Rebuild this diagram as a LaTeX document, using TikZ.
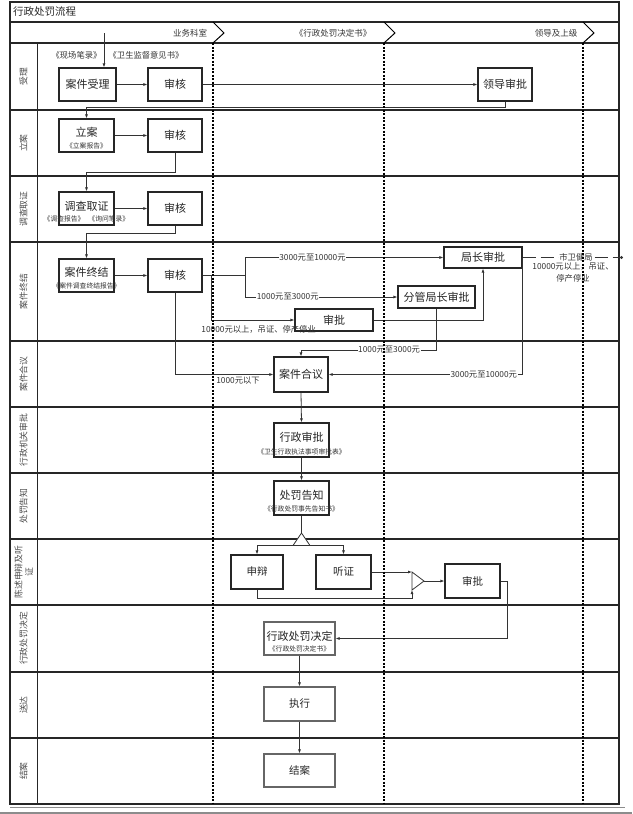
\documentclass[tikz,border=0pt]{standalone}
\usepackage{fontspec}
\setmainfont{Noto Sans CJK SC}
\usetikzlibrary{arrows.meta,calc}
\begin{document}
\begin{tikzpicture}[x=1pt,y=-1pt,
  lane/.style={line width=1.1pt,draw=black!85},
  vline/.style={dashed,dash pattern=on 2pt off 1.5pt,line width=1.1pt,draw=black},
  chev/.style={line width=1pt,draw=black},
  box/.style={draw=black!85,line width=1.1pt,fill=white,inner sep=0pt,text=black!85,font=\fontsize{11}{12}\selectfont},
  sz/.style 2 args={minimum width=#1,minimum height=#2},
  mtxt/.style={inner sep=0pt,text=black!85,font=\fontsize{11}{12}\selectfont},
  stxt/.style={inner sep=0pt,text=black!80,font=\fontsize{6.8}{7}\selectfont},
  arr/.style={-{Latex[length=4pt,width=3pt]},line width=0.8pt,draw=black!80},
  con/.style={line width=0.8pt,draw=black!80},
  lbl/.style={fill=white,inner sep=0.6pt,text=black!80,font=\fontsize{8.3}{9}\selectfont},
  plain/.style={inner sep=0pt,text=black!80,font=\fontsize{8.3}{9}\selectfont},
  hdr/.style={inner sep=0pt,text=black!80,font=\fontsize{8.5}{9}\selectfont},
  lanelbl/.style={rotate=90,inner sep=0pt,align=center,text=black!70,font=\fontsize{8.8}{10.5}\selectfont}]
\useasboundingbox (0,0) rectangle (632,814);

% frame and lanes
\draw[lane] (10,2) rectangle (619,804);
\draw[lane] (10,22) -- (619,22);
\foreach \yy in {43,110,176,242,341,407,473,539,605,672,738}
  \draw[lane] (10,\yy) -- (619,\yy);
\draw[lane] (37.5,43) -- (37.5,804);
\foreach \xx in {213,384,583}
  \draw[chev] (\xx,22) -- (\xx+11,33) -- (\xx,43);

% title and headers
\node[anchor=west,inner sep=0pt,text=black!85,font=\fontsize{10.5}{11}\selectfont] (title) at (13,12) {行政处罚流程};
\node[hdr] (h1) at (190,33) {业务科室};
\node[hdr] (h2) at (333,33) {《行政处罚决定书》};
\node[hdr] (h3) at (556,33) {领导及上级};

% lane labels
\node[lanelbl] (l1) at (23.5,76.5) {受理};
\node[lanelbl] (l2) at (23.5,143) {立案};
\node[lanelbl] (l3) at (23.5,209) {调查取证};
\node[lanelbl] (l4) at (23.5,291.5) {案件终结};
\node[lanelbl] (l5) at (23.5,374) {案件合议};
\node[lanelbl] (l6) at (23.5,440) {行政机关审批};
\node[lanelbl] (l7) at (23.5,506) {处罚告知};
\node[lanelbl] (l8) at (23.5,572) {陈述申辩及听\\证};
\node[lanelbl] (l9) at (23.5,638.5) {行政处罚决定};
\node[lanelbl] (l10) at (23.5,705) {送达};
\node[lanelbl] (l11) at (23.5,771) {结案};

% boxes
\node[plain] (doc1) at (76.5,55) {《现场笔录》};
\node[plain] (doc2) at (146,55) {《卫生监督意见书》};
\node[box,sz={57pt}{33pt}] (slA) at (87.5,84.5) {案件受理};
\node[box,sz={54pt}{33pt}] (shA) at (175,84.5) {审核};
\node[box,sz={54pt}{33pt}] (ld) at (505,84.5) {领导审批};

\node[box,sz={55pt}{33pt}] (la) at (86.5,135.5) {};
\node[mtxt] (lat) at (86.5,132.5) {立案};
\node[stxt] (lal) at (86.5,146) {《立案报告》};
\node[box,sz={54pt}{33pt}] (shB) at (175,135.5) {审核};

\node[box,sz={55pt}{33pt}] (dc) at (86.5,208.5) {};
\node[mtxt] (dct) at (86.5,206.5) {调查取证};
\node[stxt] (dcl) at (86.5,219) {《调查报告》\hspace{4pt}《询问笔录》};
\node[box,sz={54pt}{33pt}] (shC) at (175,208.5) {审核};

\node[box,sz={55pt}{33pt}] (zj) at (86.5,275.5) {};
\node[mtxt] (zjt) at (86.5,272.5) {案件终结};
\node[stxt] (zjl) at (86.5,285.5) {《案件调查终结报告》};
\node[box,sz={54pt}{33pt}] (shD) at (175,275.5) {审核};

\node[box,sz={78pt}{21pt}] (jz) at (483,257.5) {局长审批};
\node[box,sz={77pt}{22pt}] (fg) at (436.5,297) {分管局长审批};
\node[box,sz={78pt}{22pt}] (sp) at (334,320) {审批};

\node[box,sz={54pt}{35pt}] (hy) at (301,374.5) {案件合议};

\node[box,sz={55pt}{34pt}] (xz) at (301.5,440) {};
\node[mtxt] (xzt) at (301.5,437.5) {行政审批};
\node[stxt] (xzl) at (301.5,451.5) {《卫生行政执法事项审批表》};

\node[box,sz={55pt}{34pt}] (cf) at (301.5,498) {};
\node[mtxt] (cft) at (301.5,495.5) {处罚告知};
\node[stxt] (cfl) at (301.5,508.5) {《行政处罚事先告知书》};

\node[box,sz={52pt}{34pt},font=\fontsize{10.5}{11}\selectfont] (sb) at (257,572) {申辩};
\node[box,sz={55pt}{34pt},font=\fontsize{10.5}{11}\selectfont] (tz) at (343.5,572) {听证};
\node[box,sz={55pt}{34pt},font=\fontsize{10.5}{11}\selectfont] (sp2) at (472.5,581) {审批};

\node[box,sz={71pt}{33pt},draw=black!60] (jd) at (299.5,638.5) {};
\node[mtxt] (jdt) at (299.5,636) {行政处罚决定};
\node[stxt] (jdl) at (299.5,648.5) {《行政处罚决定书》};

\node[box,sz={71pt}{34pt},draw=black!60,font=\fontsize{10.5}{11}\selectfont] (zx) at (299.5,704) {执行};
\node[box,sz={71pt}{33pt},draw=black!60,font=\fontsize{10.5}{11}\selectfont] (ja) at (299.5,770.5) {结案};

% connectors lanes 1-4
\coordinate (entry) at (104,33);
\draw[arr] (entry) -- (entry |- slA.north);
\draw[arr] (slA.east) -- (shA.west);
\draw[arr] (shA.east) -- (ld.west);
\draw[arr] (ld.south) -- ++(0,5.5) -| (la.north);
\draw[arr] (la.east) -- (shB.west);
\draw[arr] (shB.south) -- ++(0,20) -| (dc.north);
\draw[arr] (dc.east) -- (shC.west);
\draw[arr] (shC.south) -- ++(0,8) -| (zj.north);
\draw[arr] (zj.east) -- (shD.west);

% branching from shD
\coordinate (br) at (245,275.5);
\coordinate (b2) at (211,275.5);
\draw[con] (shD.east) -- (br);
\draw[arr] (br) |- node[lbl,pos=0.67] (t1) {3000元至10000元} (jz.west);
\draw[arr] (br) |- node[lbl,pos=0.64] (t2) {1000元至3000元} (fg.west);
\draw[arr] (b2) |- (sp.west);
\node[plain,anchor=east] (t3) at (316,329.5) {10000元以上，吊证、停产停业};
\draw[arr] (sp.east) -| (jz.south);

% to city bureau
\coordinate (city) at (623,257.5);
\draw[con,dashed,dash pattern=on 13pt off 5pt,-{Circle[length=3pt]}] (jz.east) -- (city);
\node[lbl] (t4) at (576,257.5) {市卫健局};
\node[plain] (t5) at (573,266.5) {10000元以上，吊证、};
\node[plain] (t6) at (573,278) {停产停业};

% to case conference
\coordinate (c1) at (436.5,350);
\draw[arr] (fg.south) -- (c1) -- node[lbl,pos=0.35] (t7) {1000元至3000元} (c1 -| hy.north) -- (hy.north);
\draw[arr] (jz.east) |- node[lbl,pos=0.6] (t8) {3000元至10000元} (hy.east);
\draw[arr] (shD.south) |- (hy.west);
\node[plain] (t9) at (238,380.5) {1000元以下};

% lower flow
\draw[arr] (hy.south) -- (xz.north);
\draw[arr] (xz.south) -- (cf.north);
\coordinate (g1) at (301.5,533);
\coordinate (fk) at (301.5,545.5);
\draw[con] (cf.south) -- (g1);
\draw[arr] (fk) -| (sb.north);
\draw[arr] (fk) -| (tz.north);
\draw[con,fill=white] (293,545.5) -- (g1) -- (310,545.5) -- cycle;

\coordinate (g2a) at (412,572);
\coordinate (g2b) at (412,590);
\coordinate (g2c) at (424,581);
\draw[arr] (tz.east) -- (g2a);
\draw[arr] (sb.south) -- ++(0,9) -| (g2b);
\draw[con,fill=white] (g2a) -- (g2c) -- (g2b) -- cycle;
\draw[arr] (g2c) -- (sp2.west);
\draw[arr] (sp2.east) -- ++(7,0) |- (jd.east);
\draw[arr] (jd.south) -- (zx.north);
\draw[arr] (zx.south) -- (ja.north);

% dashed lane separators on top
\foreach \xx in {213,384,583}
  \draw[vline] (\xx,43) -- (\xx,804);

% bottom lines
\draw[black!45,line width=0.7pt] (10,807) -- (625,807);
\draw[black!45,line width=1.5pt] (0,813) -- (632,813);
\end{tikzpicture}
\end{document}
